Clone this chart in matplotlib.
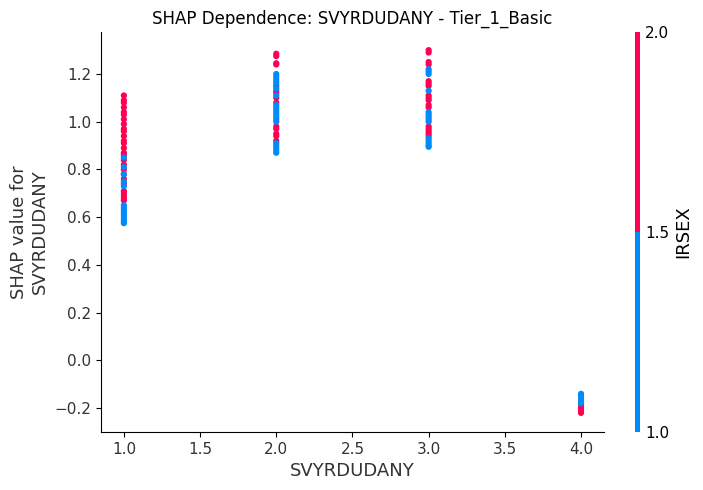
import numpy as np
import matplotlib
matplotlib.use("Agg")
import matplotlib.pyplot as plt
from matplotlib.colors import ListedColormap, Normalize
from matplotlib.cm import ScalarMappable

feature = "SVYRDUDANY"
color_feature = "IRSEX"
title = "SHAP Dependence: SVYRDUDANY - Tier_1_Basic"

# SHAP values per SVYRDUDANY level, split by IRSEX (1 = blue, 2 = red)
x1_sex2 = [1.11, 1.09, 1.08, 1.06, 1.04, 1.03, 1.01, 0.99, 0.97, 0.96, 0.94, 0.92, 0.91,
           0.89, 0.87, 0.86, 0.84, 0.82, 0.80, 0.78, 0.76, 0.74, 0.71, 0.70, 0.69, 0.68,
           0.67]
x1_sex1 = [0.85, 0.81, 0.78, 0.75, 0.73, 0.65, 0.64, 0.63, 0.62, 0.61,
           0.60, 0.59, 0.58, 0.575]
x2_sex2 = [1.285, 1.275, 1.245, 1.24, 1.15, 1.13, 1.12, 1.10, 1.08, 0.98, 0.97,
           0.95, 0.94, 0.92]
x2_sex1 = [1.20, 1.19, 1.18, 1.17, 1.16, 1.14, 1.11, 1.07, 1.06, 1.05, 1.04, 1.03, 1.02,
           1.01, 1.00, 0.91, 0.90, 0.89, 0.88, 0.87]
x3_sex2 = [1.30, 1.29, 1.25, 1.24, 1.17, 1.16, 1.15, 1.11, 1.10, 1.09, 1.07, 1.06,
           0.98, 0.97, 0.96, 0.95, 0.94]
x3_sex1 = [1.22, 1.21, 1.20, 1.13, 1.04, 1.03, 1.02, 1.01, 1.00, 0.93, 0.92,
           0.91, 0.90, 0.895]
x4_sex2 = [-0.19, -0.20, -0.21, -0.22]
x4_sex1 = [-0.14, -0.15, -0.16, -0.17, -0.18]

groups = [
    (1.0, x1_sex1, x1_sex2),
    (2.0, x2_sex1, x2_sex2),
    (3.0, x3_sex1, x3_sex2),
    (4.0, x4_sex1, x4_sex2),
]

xticks = [1.0, 1.5, 2.0, 2.5, 3.0, 3.5, 4.0]
yticks = [-0.2, 0.0, 0.2, 0.4, 0.6, 0.8, 1.0, 1.2]

blue = "#008bfb"
red = "#ff0052"
cmap = ListedColormap([blue, red])
norm = Normalize(vmin=1.0, vmax=2.0)

xs, ys, cs = [], [], []
for xv, s1, s2 in groups:
    for v in s2:
        xs.append(xv); ys.append(v); cs.append(2.0)
    for v in s1:
        xs.append(xv); ys.append(v); cs.append(1.0)

fig = plt.figure(figsize=(7.03, 4.90), dpi=100)
ax = fig.add_axes([0.1437, 0.1184, 0.7153, 0.8163])
ax.scatter(xs, ys, c=cs, cmap=cmap, norm=norm, s=20, linewidth=0, alpha=1)

ax.set_xlim(0.85, 4.15)
ax.set_ylim(-0.30, 1.376)
ax.set_xticks(xticks)
ax.set_yticks(yticks)
ax.spines["top"].set_visible(False)
ax.spines["right"].set_visible(False)
ax.tick_params(labelsize=11, labelcolor="#333333")
ax.set_xlabel(feature, fontsize=13, color="#333333")
ax.set_ylabel("SHAP value for\n" + feature, fontsize=13, color="#333333")
ax.set_title(title, fontsize=12)

cax = fig.add_axes([0.9033, 0.1184, 0.0071, 0.8163])
sm = ScalarMappable(cmap=cmap, norm=norm)
cb = fig.colorbar(sm, cax=cax, ticks=[1.0, 1.5, 2.0])
cb.outline.set_visible(False)
cb.ax.tick_params(length=0, labelsize=11)
cb.set_label(color_feature, fontsize=13)

fig.savefig("out.png", dpi=100)
